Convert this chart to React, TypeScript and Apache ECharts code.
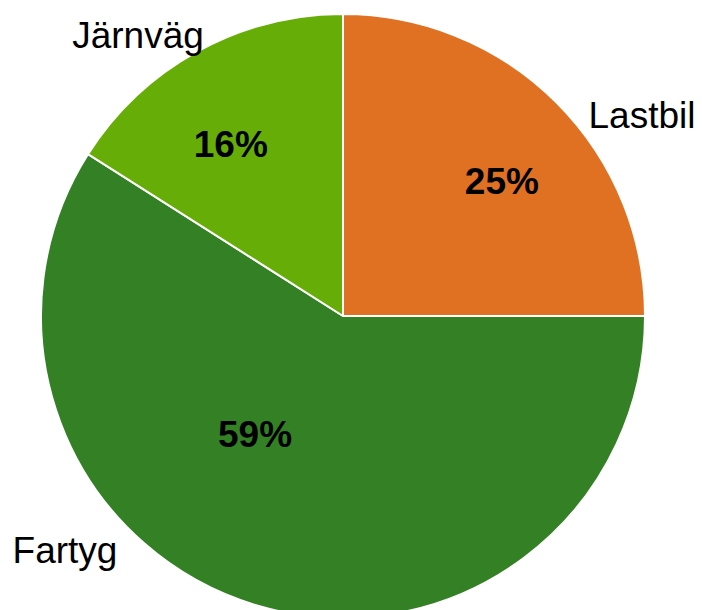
import React, { useEffect, useRef } from "react";
import * as echarts from "echarts";

const categories = ["Lastbil", "Fartyg", "Järnväg"];
const shares = [25, 59, 16];
const colors = ["#E07022", "#338025", "#67AD07"];

// label placement (layout only)
const innerNudge = [
  [50, -26],
  [-45, -29],
  [-38, -37],
];
const outerPos = [
  [642, 115],
  [65, 550],
  [138, 35],
];

export default function App() {
  const ref = useRef<HTMLDivElement>(null);
  useEffect(() => {
    const chart = echarts.init(ref.current!, null, { renderer: "svg" });
    const data = categories.map((name, i) => ({
      name,
      value: shares[i],
      itemStyle: { color: colors[i] },
    }));
    chart.setOption({
      animation: false,
      series: [
        {
          type: "pie",
          center: [343, 316],
          radius: [0, 302],
          startAngle: 90,
          clockwise: true,
          data,
          itemStyle: { borderColor: "#ffffff", borderWidth: 2 },
          label: {
            show: true,
            position: "inside",
            formatter: (p: any) => `${p.value}%`,
            fontFamily: "Liberation Sans, Arial, sans-serif",
            fontWeight: "bold",
            fontSize: 37,
            color: "#000000",
            overflow: "none",
          },
          labelLine: { show: false },
          labelLayout: (p: any) => ({
            dx: innerNudge[p.dataIndex][0],
            dy: innerNudge[p.dataIndex][1],
          }),
          emphasis: { disabled: true },
          silent: true,
        },
        {
          type: "pie",
          center: [343, 316],
          radius: [0, 302],
          startAngle: 90,
          clockwise: true,
          data: categories.map((name, i) => ({ name, value: shares[i] })),
          itemStyle: { color: "rgba(0,0,0,0)" },
          label: {
            show: true,
            position: "outside",
            formatter: "{b}",
            fontFamily: "Liberation Sans, Arial, sans-serif",
            fontSize: 37,
            color: "#000000",
            overflow: "none",
          },
          labelLine: { show: false },
          labelLayout: (p: any) => ({
            x: outerPos[p.dataIndex][0],
            y: outerPos[p.dataIndex][1],
            width: 200,
            align: "center",
            verticalAlign: "middle",
          }),
          emphasis: { disabled: true },
          silent: true,
        },
      ],
    });
    return () => chart.dispose();
  }, []);
  return (
    <div
      ref={ref}
      style={{ position: "fixed", left: 0, top: 0, width: 702, height: 610, background: "#ffffff" }}
    />
  );
}
